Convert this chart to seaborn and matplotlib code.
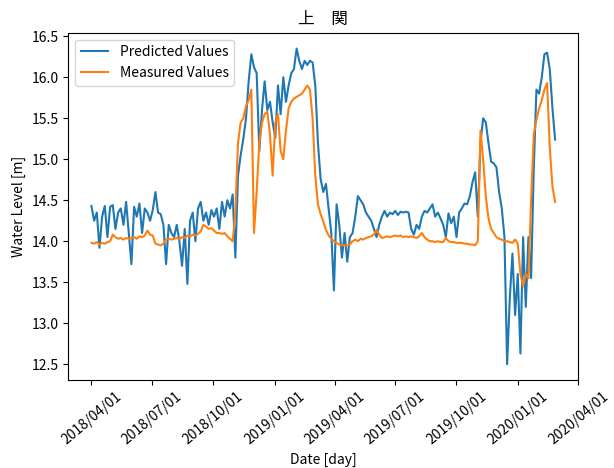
# Water level at 上関: predicted vs measured (daily series, every 4th day)
import numpy as np
import pandas as pd
import matplotlib
matplotlib.use("Agg")
import matplotlib.pyplot as plt
import matplotlib.dates as mdates
import seaborn as sns

# sample dates: every 4 days from 2018/04/01
start_date = "2018-04-01"
step_days = 4

measured = [
    13.98, 13.97, 13.99, 13.96, 13.98, 13.97, 13.99, 14.00, 14.08, 14.05,
    14.03, 14.04, 14.02, 14.04, 14.03, 14.04, 14.05, 14.03, 14.06, 14.05,
    14.07, 14.13, 14.08, 14.07, 13.97, 13.96, 13.95, 13.97, 14.02, 14.03,
    14.02, 14.03, 14.04, 14.03, 14.05, 14.04, 14.07, 14.06, 14.08, 14.07,
    14.09, 14.12, 14.20, 14.18, 14.15, 14.16, 14.13, 14.10, 14.10, 14.09,
    14.10, 14.06, 14.03, 14.00, 14.35, 15.20, 15.45, 15.50, 15.65, 15.72,
    15.85, 14.10, 14.60, 15.20, 15.45, 15.55, 15.58, 15.30, 14.80, 15.45,
    15.55, 15.10, 15.00, 15.35, 15.62, 15.70, 15.74, 15.76, 15.78, 15.80,
    15.85, 15.90, 15.85, 15.50, 14.80, 14.45, 14.33, 14.24, 14.14, 14.07,
    14.03, 14.00, 13.98, 13.96, 13.95, 13.95, 13.95, 13.96, 14.00, 14.02,
    14.00, 14.03, 14.02, 14.04, 14.05, 14.06, 14.08, 14.14, 14.08, 14.04,
    14.05, 14.06, 14.05, 14.06, 14.07, 14.06, 14.07, 14.05, 14.06, 14.05,
    14.06, 14.05, 14.04, 14.06, 14.10, 14.05, 14.02, 14.00, 14.00, 13.99,
    14.00, 13.99, 13.99, 14.04, 14.00, 13.99, 13.99, 13.98, 13.98, 13.98,
    13.97, 13.97, 13.96, 13.96, 13.95, 14.00, 15.35, 15.00, 14.55, 14.28,
    14.15, 14.10, 14.05, 14.03, 14.02, 14.00, 14.00, 13.99, 13.98, 14.02,
    13.97, 13.60, 13.45, 13.60, 13.55, 14.50, 15.30, 15.48, 15.62, 15.72,
    15.85, 15.93, 15.15, 14.67, 14.48,
]

predicted = [
    14.43, 14.25, 14.35, 13.92, 14.30, 14.43, 14.05, 14.42, 14.44, 14.15,
    14.35, 14.40, 14.20, 14.48, 14.10, 13.72, 14.42, 14.30, 14.46, 14.10,
    14.40, 14.35, 14.25, 14.38, 14.60, 14.35, 14.33, 14.20, 13.72, 14.20,
    14.10, 14.05, 14.20, 14.00, 13.70, 14.15, 13.48, 14.25, 14.35, 14.00,
    14.40, 14.48, 14.25, 14.35, 14.20, 14.38, 14.30, 14.40, 14.15, 14.48,
    14.30, 14.50, 14.40, 14.57, 13.80, 14.80, 15.05, 15.25, 15.50, 15.95,
    16.28, 16.12, 16.05, 15.10, 15.60, 15.95, 15.60, 15.70, 15.45, 15.26,
    15.90, 15.55, 16.00, 15.70, 15.90, 16.05, 16.10, 16.35, 16.20, 16.10,
    16.20, 16.15, 16.20, 16.18, 15.90, 15.20, 14.76, 14.60, 14.70, 14.40,
    14.10, 13.40, 14.45, 14.20, 13.80, 14.10, 13.75, 14.05, 14.10, 14.30,
    14.55, 14.50, 14.45, 14.35, 14.30, 14.25, 14.15, 14.05, 14.20, 14.30,
    14.37, 14.30, 14.35, 14.33, 14.37, 14.32, 14.36, 14.35, 14.36, 14.35,
    14.15, 14.08, 14.20, 14.15, 14.30, 14.37, 14.35, 14.40, 14.45, 14.30,
    14.35, 14.28, 14.20, 14.05, 14.34, 14.22, 14.30, 14.05, 14.35, 14.40,
    14.46, 14.45, 14.55, 14.72, 14.84, 14.30, 15.20, 15.50, 15.45, 15.20,
    14.97, 14.95, 14.90, 14.60, 14.40, 14.05, 12.50, 13.30, 13.85, 13.10,
    13.60, 12.63, 14.05, 13.20, 14.05, 13.55, 14.88, 15.85, 15.80, 16.00,
    16.28, 16.30, 16.10, 15.63, 15.24,
]

dates = pd.date_range(start_date, periods=len(measured), freq=f"{step_days}D")

df = pd.concat([
    pd.DataFrame({"date": dates, "level": predicted, "series": "Predicted Values"}),
    pd.DataFrame({"date": dates, "level": measured, "series": "Measured Values"}),
])

plt.rcParams["font.family"] = ["Noto Sans CJK JP", "DejaVu Sans"]
plt.rcParams["font.size"] = 10

fig, ax = plt.subplots(figsize=(6.14, 4.68), dpi=100)
# right edge pulled in a little so the last rotated date label stays inside
fig.subplots_adjust(left=0.111, right=0.942, top=0.930, bottom=0.188)

sns.lineplot(data=df, x="date", y="level", hue="series",
             palette=["#1f77b4", "#ff7f0e"], linewidth=1.5, ax=ax)

sns.move_legend(ax, "upper left", title=None)

ax.xaxis.set_major_locator(mdates.MonthLocator(bymonth=[1, 4, 7, 10]))
ax.xaxis.set_major_formatter(mdates.DateFormatter("%Y/%m/%d"))
ax.set_xlim(pd.Timestamp("2018-02-25"), pd.Timestamp("2020-04-01"))
plt.setp(ax.get_xticklabels(), rotation=40)

ax.set_title("上　関", fontsize=12)
ax.set_xlabel("Date [day]")
ax.set_ylabel("Water Level [m]")

fig.savefig("out.png", dpi=100)
